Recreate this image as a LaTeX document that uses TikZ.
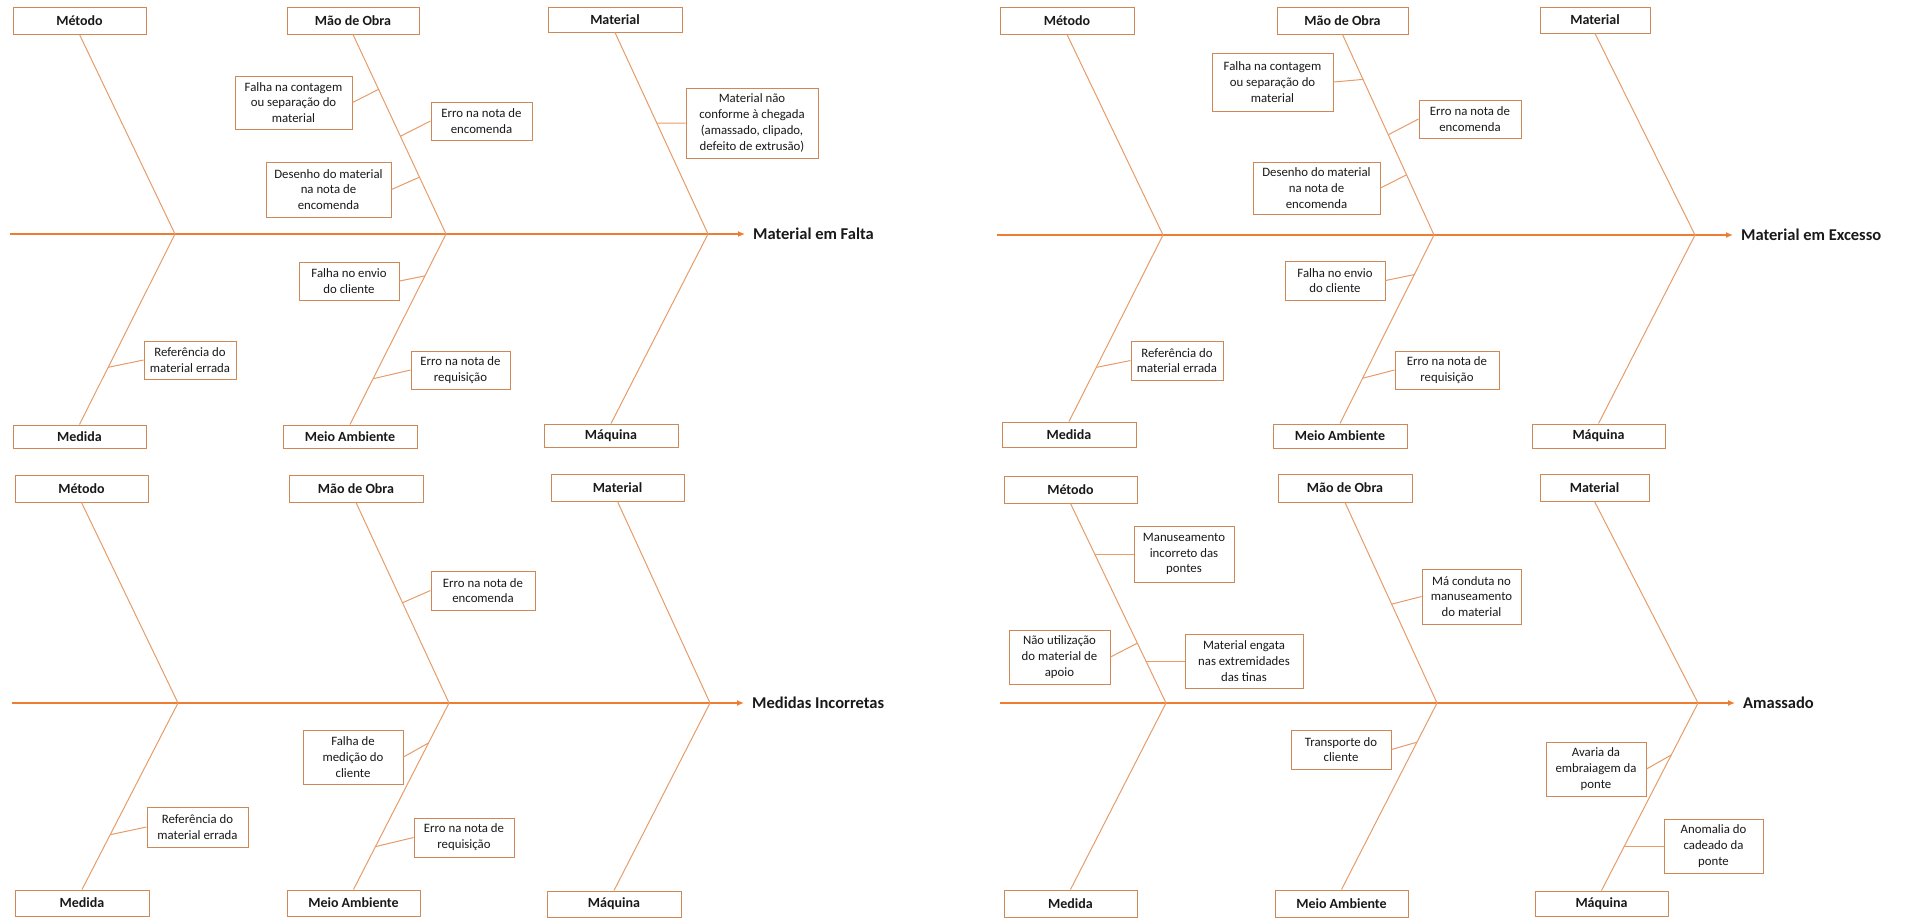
\documentclass[tikz,border=0pt]{standalone}
\usepackage{fontspec}
\setmainfont{Carlito}
\usetikzlibrary{arrows.meta,calc}

\definecolor{spineC}{RGB}{237,125,49}
\definecolor{boneC}{RGB}{230,156,104}
\definecolor{boxC}{RGB}{206,136,86}
\definecolor{txtC}{RGB}{25,25,25}

\tikzset{
  every node/.style={text=txtC},
  wh/.style 2 args={minimum width=#1pt, minimum height=#2pt},
  catbox/.style={draw=boxC, line width=1pt, fill=white, inner sep=1pt,
    font=\bfseries\fontsize{14}{16}\selectfont},
  causebox/.style={draw=boxC, line width=1pt, fill=white, inner sep=1pt,
    align=center, font=\fontsize{12.8}{15.8}\selectfont},
  effect/.style={anchor=west, inner xsep=8pt, inner ysep=0pt,
    font=\bfseries\fontsize{16.5}{19}\selectfont},
  spine/.style={draw=spineC, line width=2pt, -{Latex[length=7pt,width=6pt]}},
  bone/.style={draw=boneC, line width=1pt},
  twig/.style={draw=boneC, line width=1pt},
}

\begin{document}
\begin{tikzpicture}[x=1pt, y=-1pt]
\useasboundingbox (0,0) rectangle (1905,919);

% ---------------- Material em Falta ----------------
\coordinate (s1o) at (10,234);
\coordinate (s1a) at (175,234);
\coordinate (s1b) at (446,234);
\coordinate (s1c) at (708,234);
\node[catbox, wh={133}{27}] (m1)  at (79.5,20.5) {Método};
\node[catbox, wh={132}{27}] (mo1) at (353,20.5) {Mão de Obra};
\node[catbox, wh={134}{25}] (ma1) at (615,19.5) {Material};
\node[catbox, wh={133}{23}] (me1) at (79.5,436.5) {Medida};
\node[catbox, wh={134}{23}] (mb1) at (350,436.5) {Meio Ambiente};
\node[catbox, wh={134}{23}] (mq1) at (611,435.5) {Máquina};
\node[effect] (ef1) at (745,234) {Material em Falta};

\node[causebox, wh={117}{53}] (a1) at (293.5,102.5) {Falha na contagem\\ou separação do\\material};
\node[causebox, wh={101}{38}] (b1) at (481.5,121) {Erro na nota de\\encomenda};
\node[causebox, wh={125}{55}] (c1) at (328.5,189.5) {Desenho do material\\na nota de\\encomenda};
\node[causebox, wh={132}{70}] (d1) at (752,123) {Material não\\conforme à chegada\\(amassado, clipado,\\defeito de extrusão)};
\node[causebox, wh={92}{38}]  (e1) at (190,360) {Referência do\\material errada};
\node[causebox, wh={100}{38}] (f1) at (349,281) {Falha no envio\\do cliente};
\node[causebox, wh={99}{38}]  (g1) at (460.5,370) {Erro na nota de\\requisição};

\draw[spine] (s1o) -- (ef1.west);
\draw[bone] (m1.south) -- (s1a);
\draw[bone] (mo1.south) -- (s1b);
\draw[bone] (ma1.south) -- (s1c);
\draw[bone] (s1a) -- (me1.north);
\draw[bone] (s1b) -- (mb1.north);
\draw[bone] (s1c) -- (mq1.north);

\coordinate (ja1) at ($(mo1.south)!0.275!(s1b)$);
\coordinate (jb1) at ($(mo1.south)!0.51!(s1b)$);
\coordinate (jc1) at ($(mo1.south)!0.715!(s1b)$);
\coordinate (jd1) at (intersection of ma1.south--s1c and d1.west--d1.east);
\coordinate (je1) at ($(s1a)!0.70!(me1.north)$);
\coordinate (jf1) at ($(s1b)!0.22!(mb1.north)$);
\coordinate (jg1) at ($(s1b)!0.76!(mb1.north)$);
\draw[twig] (ja1) -- (a1.east);
\draw[twig] (jb1) -- (b1.west);
\draw[twig] (jc1) -- (c1.east);
\draw[twig] (jd1) -- (d1.west);
\draw[twig] (je1) -- (e1.west);
\draw[twig] (jf1) -- (f1.east);
\draw[twig] (jg1) -- (g1.west);

% ---------------- Material em Excesso ----------------
\coordinate (s2o) at (997,235);
\coordinate (s2a) at (1163,235);
\coordinate (s2b) at (1434,235);
\coordinate (s2c) at (1695,235);
\node[catbox, wh={134}{27}] (m2)  at (1067,20.5) {Método};
\node[catbox, wh={131}{27}] (mo2) at (1342.5,20.5) {Mão de Obra};
\node[catbox, wh={110}{26}] (ma2) at (1595,20) {Material};
\node[catbox, wh={134}{25}] (me2) at (1069,434.5) {Medida};
\node[catbox, wh={134}{24}] (mb2) at (1340,436) {Meio Ambiente};
\node[catbox, wh={133}{24}] (mq2) at (1598.5,436) {Máquina};
\node[effect] (ef2) at (1733,235) {Material em Excesso};

\node[causebox, wh={121}{58}] (a2) at (1272.5,82) {Falha na contagem\\ou separação do\\material};
\node[causebox, wh={102}{38}] (b2) at (1470,119) {Erro na nota de\\encomenda};
\node[causebox, wh={127}{52}] (c2) at (1316.5,188) {Desenho do material\\na nota de\\encomenda};
\node[causebox, wh={92}{39}]  (e2) at (1177,360.5) {Referência do\\material errada};
\node[causebox, wh={100}{39}] (f2) at (1335,280.5) {Falha no envio\\do cliente};
\node[causebox, wh={104}{38}] (g2) at (1447,370) {Erro na nota de\\requisição};

\draw[spine] (s2o) -- (ef2.west);
\draw[bone] (m2.south) -- (s2a);
\draw[bone] (mo2.south) -- (s2b);
\draw[bone] (ma2.south) -- (s2c);
\draw[bone] (s2a) -- (me2.north);
\draw[bone] (s2b) -- (mb2.north);
\draw[bone] (s2c) -- (mq2.north);

\coordinate (ja2) at ($(mo2.south)!0.224!(s2b)$);
\coordinate (jb2) at ($(mo2.south)!0.50!(s2b)$);
\coordinate (jc2) at ($(mo2.south)!0.70!(s2b)$);
\coordinate (je2) at ($(s2a)!0.71!(me2.north)$);
\coordinate (jf2) at ($(s2b)!0.21!(mb2.north)$);
\coordinate (jg2) at ($(s2b)!0.76!(mb2.north)$);
\draw[twig] (ja2) -- (a2.east);
\draw[twig] (jb2) -- (b2.west);
\draw[twig] (jc2) -- (c2.east);
\draw[twig] (je2) -- (e2.west);
\draw[twig] (jf2) -- (f2.east);
\draw[twig] (jg2) -- (g2.west);

% ---------------- Medidas Incorretas ----------------
\coordinate (s3o) at (12,703);
\coordinate (s3a) at (178,703);
\coordinate (s3b) at (449,703);
\coordinate (s3c) at (710,703);
\node[catbox, wh={133}{27}] (m3)  at (81.5,488.5) {Método};
\node[catbox, wh={134}{27}] (mo3) at (356,488.5) {Mão de Obra};
\node[catbox, wh={133}{27}] (ma3) at (617.5,487.5) {Material};
\node[catbox, wh={134}{26}] (me3) at (82,903) {Medida};
\node[catbox, wh={133}{26}] (mb3) at (353.5,903) {Meio Ambiente};
\node[catbox, wh={134}{26}] (mq3) at (614,904) {Máquina};
\node[effect] (ef3) at (744,703) {Medidas Incorretas};

\node[causebox, wh={104}{39}] (b3) at (483,590.5) {Erro na nota de\\encomenda};
\node[causebox, wh={100}{54}] (f3) at (353,757) {Falha de\\medição do\\cliente};
\node[causebox, wh={101}{40}] (e3) at (197.5,827) {Referência do\\material errada};
\node[causebox, wh={100}{39}] (g3) at (464,837.5) {Erro na nota de\\requisição};

\draw[spine] (s3o) -- (ef3.west);
\draw[bone] (m3.south) -- (s3a);
\draw[bone] (mo3.south) -- (s3b);
\draw[bone] (ma3.south) -- (s3c);
\draw[bone] (s3a) -- (me3.north);
\draw[bone] (s3b) -- (mb3.north);
\draw[bone] (s3c) -- (mq3.north);

\coordinate (jb3) at ($(mo3.south)!0.50!(s3b)$);
\coordinate (jf3) at ($(s3b)!0.214!(mb3.north)$);
\coordinate (je3) at ($(s3a)!0.706!(me3.north)$);
\coordinate (jg3) at ($(s3b)!0.77!(mb3.north)$);
\draw[twig] (jb3) -- (b3.west);
\draw[twig] (jf3) -- (f3.east);
\draw[twig] (je3) -- (e3.west);
\draw[twig] (jg3) -- (g3.west);

% ---------------- Amassado ----------------
\coordinate (s4o) at (1000,703);
\coordinate (s4a) at (1166,703);
\coordinate (s4b) at (1437,703);
\coordinate (s4c) at (1698,703);
\node[catbox, wh={133}{27}] (m4)  at (1070.5,489.5) {Método};
\node[catbox, wh={134}{28}] (mo4) at (1345,488) {Mão de Obra};
\node[catbox, wh={109}{27}] (ma4) at (1594.5,487.5) {Material};
\node[catbox, wh={133}{27}] (me4) at (1070.5,903.5) {Medida};
\node[catbox, wh={133}{27}] (mb4) at (1341.5,903.5) {Meio Ambiente};
\node[catbox, wh={133}{25}] (mq4) at (1601.5,903.5) {Máquina};
\node[effect] (ef4) at (1735,703) {Amassado};

\node[causebox, wh={100}{56}] (h4) at (1184,554) {Manuseamento\\incorreto das\\pontes};
\node[causebox, wh={101}{54}] (i4) at (1059.5,657) {Não utilização\\do material de\\apoio};
\node[causebox, wh={118}{54}] (k4) at (1244,661) {Material engata\\nas extremidades\\das tinas};
\node[causebox, wh={99}{55}]  (l4) at (1471.5,596.5) {Má conduta no\\manuseamento\\do material};
\node[causebox, wh={100}{39}] (n4) at (1341,749.5) {Transporte do\\cliente};
\node[causebox, wh={100}{54}] (p4) at (1596,769) {Avaria da\\embraiagem da\\ponte};
\node[causebox, wh={99}{54}]  (q4) at (1713.5,846) {Anomalia do\\cadeado da\\ponte};

\draw[spine] (s4o) -- (ef4.west);
\draw[bone] (m4.south) -- (s4a);
\draw[bone] (mo4.south) -- (s4b);
\draw[bone] (ma4.south) -- (s4c);
\draw[bone] (s4a) -- (me4.north);
\draw[bone] (s4b) -- (mb4.north);
\draw[bone] (s4c) -- (mq4.north);

\coordinate (jh4) at (intersection of m4.south--s4a and h4.west--h4.east);
\coordinate (ji4) at ($(m4.south)!0.70!(s4a)$);
\coordinate (jk4) at (intersection of m4.south--s4a and k4.west--k4.east);
\coordinate (jl4) at ($(mo4.south)!0.507!(s4b)$);
\coordinate (jn4) at ($(s4b)!0.21!(mb4.north)$);
\coordinate (jp4) at ($(s4c)!0.277!(mq4.north)$);
\coordinate (jq4) at (intersection of s4c--mq4.north and q4.west--q4.east);
\draw[twig] (jh4) -- (h4.west);
\draw[twig] (ji4) -- (i4.east);
\draw[twig] (jk4) -- (k4.west);
\draw[twig] (jl4) -- (l4.west);
\draw[twig] (jn4) -- (n4.east);
\draw[twig] (jp4) -- (p4.east);
\draw[twig] (jq4) -- (q4.west);
\end{tikzpicture}
\end{document}
